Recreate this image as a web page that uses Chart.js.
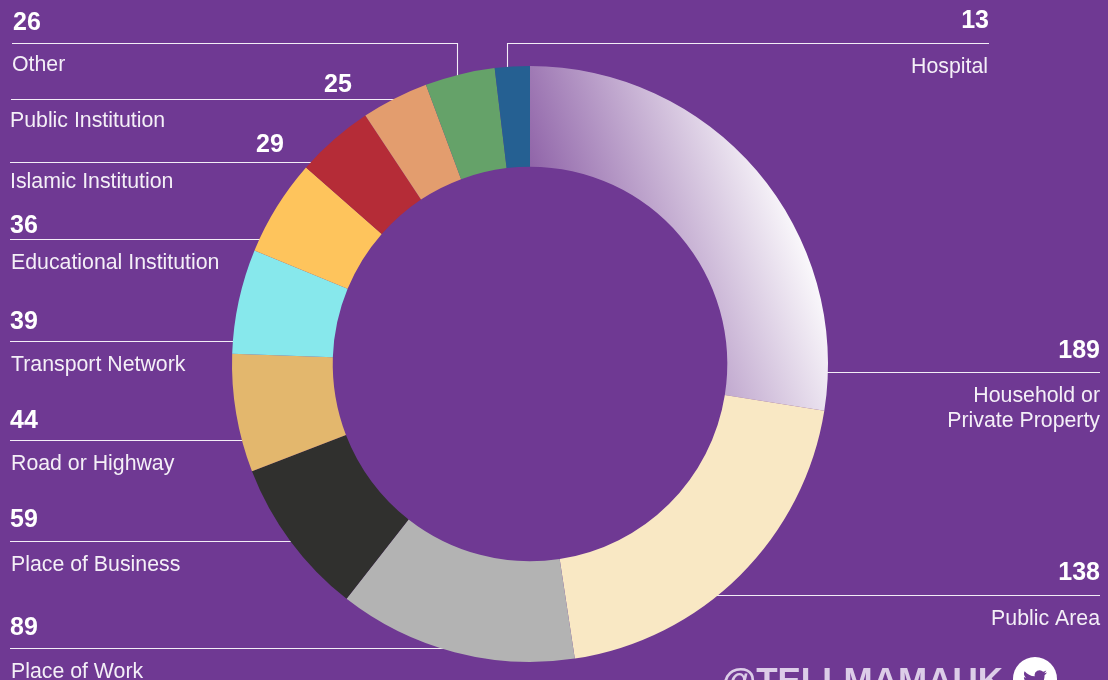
<!DOCTYPE html>
<html><head><meta charset="utf-8">
<style>html,body{margin:0;padding:0;background:#6f3993;overflow:hidden}#w{position:relative;width:1108px;height:680px}canvas{display:block}</style>
<script src="https://cdn.jsdelivr.net/npm/chart.js@4/dist/chart.umd.min.js"></script>
</head><body><div id="w"><canvas id="c" width="1108" height="680"></canvas></div>
<script>
const categories=['Household or\nPrivate Property','Public Area','Place of Work','Place of Business','Road or Highway','Transport Network','Educational Institution','Islamic Institution','Public Institution','Other','Hospital'];
const values=[189,138,89,59,44,39,36,29,25,26,13];
const colors=[null,'#f9e8c4','#b3b3b3','#30302e','#e3b76d','#87e8ec','#fec45c','#b52c37','#e39d6e','#65a269','#256092'];
const handle='@TELLMAMAUK';
// annotation geometry, same order as categories: leader polyline, value anchor, label anchor
const notes=[
 {line:[[825,372.5],[1100,372.5]],vx:1100,vy:358,lx:1100,ly:402,a:'right'},
 {line:[[700,595.5],[1100,595.5]],vx:1100,vy:580,lx:1100,ly:625,a:'right'},
 {line:[[10,648.5],[460,648.5]],vx:10,vy:635,lx:11,ly:678,a:'left'},
 {line:[[10,541.5],[300,541.5]],vx:10,vy:527,lx:11,ly:571,a:'left'},
 {line:[[10,440.5],[250,440.5]],vx:10,vy:428,lx:11,ly:470,a:'left'},
 {line:[[10,341.5],[245,341.5]],vx:10,vy:329,lx:11,ly:371,a:'left'},
 {line:[[10,239.5],[270,239.5]],vx:10,vy:233,lx:11,ly:269,a:'left'},
 {line:[[10,162.5],[325,162.5]],vx:256,vy:152,lx:10,ly:188,a:'left'},
 {line:[[11,99.5],[405,99.5]],vx:324,vy:92,lx:10,ly:127,a:'left'},
 {line:[[12,43.5],[457.5,43.5],[457.5,85]],vx:13,vy:30,lx:12,ly:71,a:'left'},
 {line:[[989,43.5],[507.5,43.5],[507.5,80]],vx:989,vy:28,lx:988,ly:73,a:'right'}
];
const FONT='"Liberation Sans",Arial,sans-serif';
const under={id:'under',beforeDatasetsDraw(ch){const x=ch.ctx;x.save();x.strokeStyle='#f3edf7';x.lineWidth=1.1;
 notes.forEach(n=>{x.beginPath();n.line.forEach((p,i)=>i?x.lineTo(p[0],p[1]):x.moveTo(p[0],p[1]));x.stroke();});x.restore();}};
const over={id:'over',afterDatasetsDraw(ch){const x=ch.ctx;x.save();x.textBaseline='alphabetic';
 notes.forEach((n,i)=>{x.textAlign=n.a;x.fillStyle='#ffffff';x.font='bold 25px '+FONT;x.fillText(String(values[i]),n.vx,n.vy);
  x.fillStyle='#f4eff7';x.font='21.3px '+FONT;categories[i].split('\n').forEach((t,k)=>x.fillText(t,n.lx,n.ly+k*25));});
 x.textAlign='left';x.fillStyle='#dccde8';x.font='bold 35px '+FONT;x.fillText(handle,722,692);
 x.fillStyle='#ffffff';x.beginPath();x.arc(1035,679,22,0,Math.PI*2);x.fill();
 x.translate(1023,668);x.fillStyle='#6f3993';
 x.fill(new Path2D('M23.953 4.57a10 10 0 01-2.825.775 4.958 4.958 0 002.163-2.723c-.951.555-2.005.959-3.127 1.184a4.92 4.92 0 00-8.384 4.482C7.69 8.095 4.067 6.13 1.64 3.162a4.822 4.822 0 00-.666 2.475c0 1.71.87 3.213 2.188 4.096a4.904 4.904 0 01-2.228-.616v.06a4.923 4.923 0 003.946 4.827 4.996 4.996 0 01-2.212.085 4.936 4.936 0 004.604 3.417 9.867 9.867 0 01-6.102 2.105c-.39 0-.779-.023-1.17-.067a13.995 13.995 0 007.557 2.209c9.053 0 13.998-7.496 13.998-13.985 0-.21 0-.42-.015-.63A9.935 9.935 0 0024 4.59z'));
 x.restore();}};
new Chart(document.getElementById('c'),{type:'doughnut',
 data:{labels:categories,datasets:[{data:values,borderWidth:0,
  backgroundColor(ctx){if(ctx.dataIndex!==0)return colors[ctx.dataIndex];
   const a=ctx.chart.chartArea;if(!a)return '#ffffff';
   const cx=(a.left+a.right)/2,cy=(a.top+a.bottom)/2;
   const g=ctx.chart.ctx.createLinearGradient(cx,cy-190,cx+232,cy-272);
   g.addColorStop(0,'#8f63a8');g.addColorStop(1,'#ffffff');return g;}}]},
 options:{responsive:false,animation:false,cutout:'66.2%',
  layout:{padding:{left:0,right:48,top:66,bottom:18}},
  plugins:{legend:{display:false},tooltip:{enabled:false}}},
 plugins:[under,over]});
</script></body></html>
